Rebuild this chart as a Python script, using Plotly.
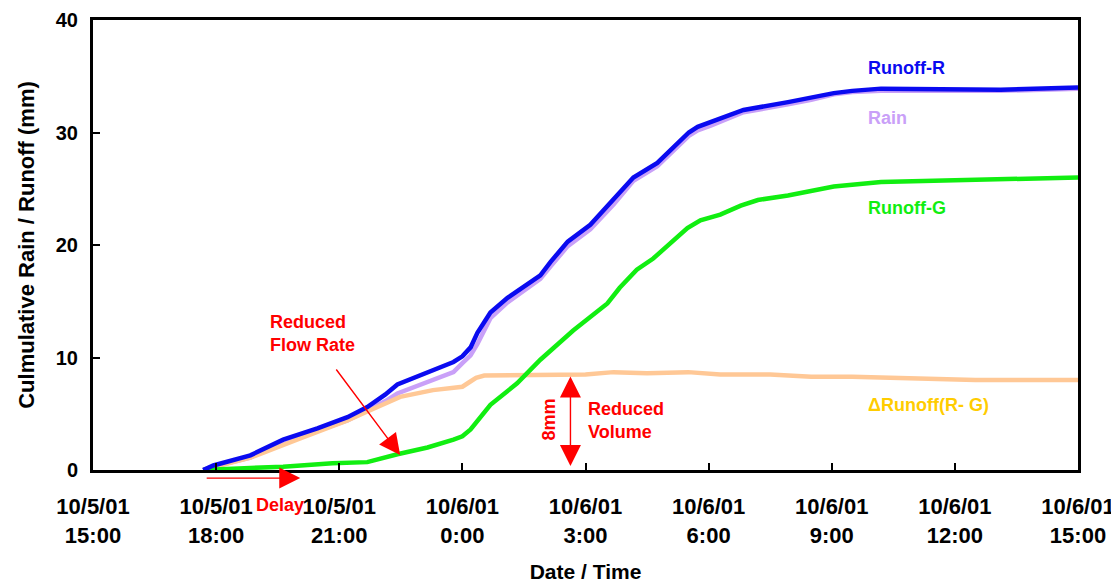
import plotly.graph_objects as go

D1 = "2001-10-05 "
D2 = "2001-10-06 "

runoff_r_time = [D1 + t for t in ["17:41", "17:56", "18:50", "19:38", "20:28", "21:12", "21:41", "22:07", "22:25", "23:09", "23:47"]] + \
    [D2 + t for t in ["00:00", "00:12", "00:22", "00:41", "01:06", "01:29", "01:54", "02:09", "02:34", "03:07", "03:41",
                      "04:10", "04:45", "05:31", "05:44", "06:03", "06:51", "07:56", "08:30", "09:03", "09:30",
                      "10:12", "13:07", "15:00"]]
runoff_r = [0, 0.4, 1.3, 2.7, 3.7, 4.7, 5.6, 6.7, 7.6, 8.7, 9.6,
            10.1, 10.9, 12.2, 14.0, 15.3, 16.3, 17.3, 18.5, 20.3, 21.8, 24.0,
            26.0, 27.3, 30.0, 30.5, 30.9, 32.0, 32.7, 33.1, 33.5, 33.7,
            33.9, 33.8, 34.0]
rain = [0, 0.3, 1.1, 2.5, 3.5, 4.4, 5.3, 6.1, 6.8, 7.8, 8.7,
        9.5, 10.2, 11.2, 13.5, 14.9, 15.9, 17.0, 18.1, 19.9, 21.4, 23.6,
        25.7, 27.0, 29.7, 30.2, 30.6, 31.8, 32.5, 32.9, 33.4, 33.6,
        33.7, 33.7, 33.9]

runoff_g_time = [D1 + t for t in ["17:41", "18:30", "19:38", "20:50", "21:41", "22:25", "23:09", "23:47"]] + \
    [D2 + t for t in ["00:00", "00:12", "00:26", "00:41", "01:20", "01:54", "02:42", "03:32", "03:50", "04:15", "04:39",
                      "05:29", "05:48", "06:17", "06:47", "07:12", "07:56", "09:03", "10:12", "12:54", "15:00"]]
runoff_g = [0, 0.1, 0.3, 0.6, 0.7, 1.4, 2.0, 2.7,
            3.0, 3.6, 4.6, 5.8, 7.7, 9.8, 12.4, 14.8, 16.2, 17.8, 18.8,
            21.5, 22.2, 22.7, 23.5, 24.0, 24.4, 25.2, 25.6, 25.8, 26.0]

delta_time = [D1 + t for t in ["17:41", "18:50", "20:03", "21:12", "21:41", "22:29", "23:17"]] + \
    [D2 + t for t in ["00:00", "00:10", "00:20", "00:32", "01:00", "02:00", "03:00", "03:41", "04:30", "05:30", "06:17",
                      "07:30", "08:30", "09:30", "10:30", "11:30", "12:30", "15:00"]]
delta = [0, 1.1, 2.8, 4.4, 5.2, 6.5, 7.1,
         7.4, 7.8, 8.2, 8.4, 8.4, 8.4, 8.5, 8.7, 8.6, 8.7, 8.5,
         8.5, 8.3, 8.3, 8.2, 8.1, 8.0, 8.0]

tick_vals = [D1 + "15:00", D1 + "18:00", D1 + "21:00", D2 + "00:00", D2 + "03:00",
             D2 + "06:00", D2 + "09:00", D2 + "12:00", D2 + "15:00"]
tick_dates = ["10/5/01", "10/5/01", "10/5/01", "10/6/01", "10/6/01", "10/6/01", "10/6/01", "10/6/01", "10/6/01"]
tick_times = ["15:00", "18:00", "21:00", "0:00", "3:00", "6:00", "9:00", "12:00", "15:00"]

FONT = "Liberation Sans, Arial, sans-serif"
RED = "#ff0000"

fig = go.Figure()
fig.add_trace(go.Scatter(x=runoff_r_time, y=rain, mode="lines", line=dict(color="#c9a0f8", width=4.5)))
fig.add_trace(go.Scatter(x=delta_time, y=delta, mode="lines", line=dict(color="#ffc896", width=4.5)))
fig.add_trace(go.Scatter(x=runoff_g_time, y=runoff_g, mode="lines", line=dict(color="#11ee11", width=4.5)))
fig.add_trace(go.Scatter(x=runoff_r_time, y=runoff_r, mode="lines", line=dict(color="#0a0af0", width=4.5)))

labels = [
    ("Runoff-R", 35.7, "#0a0af0"),
    ("Rain", 31.3, "#c9a0f8"),
    ("Runoff-G", 23.3, "#11ee11"),
    ("\u0394Runoff(R- G)", 5.8, "#ffcc00"),
]
for text, y, color in labels:
    fig.add_annotation(x=D2 + "09:50", y=y, text=text, showarrow=False, xanchor="left",
                       font=dict(family=FONT, size=18, color=color, weight="bold"))

red_font = dict(family=FONT, size=18, color=RED, weight="bold")
fig.add_annotation(x=D1 + "19:16", y=12.1, text="Reduced<br>Flow Rate", showarrow=False,
                   xanchor="left", align="left", font=red_font)
fig.add_annotation(x=D1 + "22:29", y=1.33, ax=D1 + "20:54", ay=9.07, axref="x", ayref="y",
                   showarrow=True, arrowhead=2, arrowsize=3, arrowwidth=1.4, arrowcolor=RED, text="")
fig.add_annotation(x=D2 + "03:00", y=4.44, text="Reduced<br>Volume", showarrow=False,
                   xanchor="left", align="left", font=red_font)
fig.add_annotation(x=D2 + "02:38", y=0.36, ax=D2 + "02:38", ay=8.44, axref="x", ayref="y",
                   showarrow=True, arrowhead=2, startarrowhead=2, arrowside="end+start",
                   arrowsize=3, startarrowsize=3, arrowwidth=1.4, arrowcolor=RED, text="")
fig.add_annotation(x=D2 + "02:06", y=4.44, text="8mm", textangle=-90, showarrow=False, font=red_font)
fig.add_annotation(x=D1 + "20:03", y=-0.018, yref="paper", ax=D1 + "17:44", axref="x", ay=0,
                   ayref="pixel", showarrow=True, arrowhead=2, arrowsize=3, arrowwidth=1.4,
                   arrowcolor=RED, text="")
fig.add_annotation(x=D1 + "19:34", y=-0.078, yref="paper", yanchor="middle", text="Delay", showarrow=False,
                   font=dict(family=FONT, size=18, color=RED, weight="bold"))

tick_text = [d + "<br>" + t for d, t in zip(tick_dates, tick_times)]
axis_common = dict(showline=True, linecolor="black", linewidth=3, mirror=True, showgrid=False,
                   zeroline=False, ticks="inside", ticklen=7, tickwidth=2, tickcolor="black",
                   automargin=False)
fig.update_xaxes(range=[D1 + "15:00", D2 + "15:00"], tickvals=tick_vals, ticktext=tick_text,
                 ticklabelstandoff=15, tickfont=dict(family=FONT, size=22, color="black", weight="bold"),
                 title=dict(text="Date / Time", standoff=18,
                            font=dict(family=FONT, size=21, color="black", weight="bold")),
                 **axis_common)
fig.update_yaxes(range=[0, 40], tickvals=[0, 10, 20, 30, 40], ticklabelstandoff=8,
                 tickfont=dict(family=FONT, size=20, color="black", weight="bold"),
                 title=dict(text="Culmulative Rain / Runoff (mm)", standoff=16,
                            font=dict(family=FONT, size=22, color="black", weight="bold")),
                 **axis_common)
# page body adds an 8px margin, so the figure is 8px smaller than the window
fig.update_layout(width=1111, height=576, showlegend=False, plot_bgcolor="white", paper_bgcolor="white",
                  margin=dict(l=85, r=41, t=12, b=114))
fig.write_html("out.html")
